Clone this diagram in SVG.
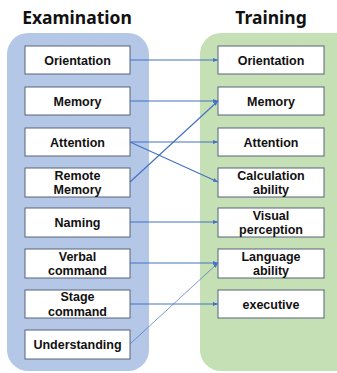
<svg xmlns="http://www.w3.org/2000/svg" width="337" height="373" viewBox="0 0 337 373">
<defs>
<style>
.title{font-family:"Noto Sans","Liberation Sans",sans-serif;font-weight:bold;font-size:17.5px;fill:#111;text-anchor:middle}
.lbl{font-family:"Liberation Sans",Arial,sans-serif;font-weight:bold;font-size:12.5px;fill:#111;text-anchor:middle}
.box{fill:#fff;stroke:#56637a;stroke-width:1}
.conn{stroke:#4472c4;stroke-width:1.2;fill:none;marker-end:url(#ah)}
</style>
<marker id="ah" viewBox="0 0 10 10" refX="10" refY="5" markerWidth="5" markerHeight="5" markerUnits="userSpaceOnUse" orient="auto">
<path d="M0,1 L10,5 L0,9 Z" fill="#4472c4"/>
</marker>
</defs>
<text class="title" x="77" y="24">Examination</text>
<text class="title" x="271" y="24">Training</text>
<rect id="examPanel" x="7" y="33" width="142" height="338" rx="21" fill="#b4c7e7"/>
<rect id="trainPanel" x="200" y="33" width="160" height="338" rx="21" fill="#c5e0b4"/>
<g id="e1"><rect class="box" x="25" y="46" width="105" height="28"/><text class="lbl" x="77.5" y="64.5">Orientation</text></g>
<g id="e2"><rect class="box" x="25" y="87" width="105" height="28"/><text class="lbl" x="77.5" y="105.5">Memory</text></g>
<g id="e3"><rect class="box" x="25" y="128" width="105" height="28"/><text class="lbl" x="77.5" y="146.5">Attention</text></g>
<g id="e4"><rect class="box" x="25" y="168" width="105" height="29"/><text class="lbl" x="77.5" y="179.5">Remote</text><text class="lbl" x="77.5" y="194">Memory</text></g>
<g id="e5"><rect class="box" x="25" y="208" width="105" height="29"/><text class="lbl" x="77.5" y="227">Naming</text></g>
<g id="e6"><rect class="box" x="25" y="249" width="105" height="29"/><text class="lbl" x="77.5" y="260.5">Verbal</text><text class="lbl" x="77.5" y="275">command</text></g>
<g id="e7"><rect class="box" x="25" y="290" width="105" height="28"/><text class="lbl" x="77.5" y="301">Stage</text><text class="lbl" x="77.5" y="315.5">command</text></g>
<g id="e8"><rect class="box" x="25" y="330" width="105" height="29"/><text class="lbl" x="77.5" y="349">Understanding</text></g>
<g id="t1"><rect class="box" x="218" y="46" width="106" height="28"/><text class="lbl" x="271" y="64.5">Orientation</text></g>
<g id="t2"><rect class="box" x="218" y="87" width="106" height="28"/><text class="lbl" x="271" y="105.5">Memory</text></g>
<g id="t3"><rect class="box" x="218" y="128" width="106" height="28"/><text class="lbl" x="271" y="146.5">Attention</text></g>
<g id="t4"><rect class="box" x="218" y="168" width="106" height="29"/><text class="lbl" x="271" y="179.5">Calculation</text><text class="lbl" x="271" y="194">ability</text></g>
<g id="t5"><rect class="box" x="218" y="208" width="106" height="29"/><text class="lbl" x="271" y="219.5">Visual</text><text class="lbl" x="271" y="234">perception</text></g>
<g id="t6"><rect class="box" x="218" y="249" width="106" height="29"/><text class="lbl" x="271" y="260.5">Language</text><text class="lbl" x="271" y="275">ability</text></g>
<g id="t7"><rect class="box" x="218" y="290" width="106" height="28"/><text class="lbl" x="271" y="308.5">executive</text></g>
<g id="connectors">
<line class="conn" x1="130" y1="60" x2="218" y2="60"/>
<line class="conn" x1="130" y1="101" x2="218" y2="101"/>
<line class="conn" x1="130" y1="142" x2="218" y2="142"/>
<line class="conn" x1="130" y1="142" x2="218" y2="182"/>
<line class="conn" x1="130" y1="182" x2="218" y2="101"/>
<line class="conn" x1="130" y1="222" x2="218" y2="222"/>
<line class="conn" x1="130" y1="263" x2="218" y2="263"/>
<line class="conn" x1="130" y1="304" x2="218" y2="304"/>
<line class="conn" x1="130" y1="344" x2="218" y2="263" style="stroke-width:0.7"/>
</g>
</svg>
